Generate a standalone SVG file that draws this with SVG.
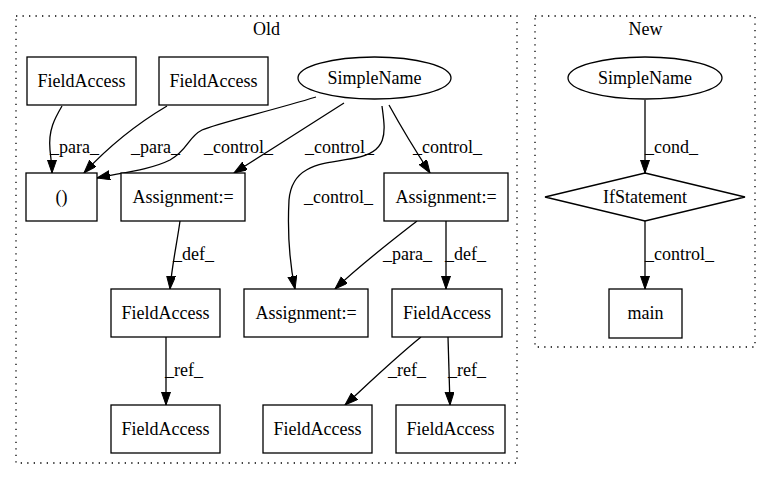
<svg xmlns="http://www.w3.org/2000/svg" width="771" height="480" viewBox="0 0 771 480" font-family="'Liberation Serif', 'Times New Roman', 'DejaVu Serif', serif" font-size="18">
<style>
text{font-family:'Liberation Serif','Times New Roman','DejaVu Serif',serif;font-size:18px;fill:#000}
.n text{text-anchor:middle}
.n rect,.n ellipse,.n polygon{fill:#fff;stroke:#000;stroke-width:1.3}
.c{fill:none;stroke:#000;stroke-width:1.3;stroke-dasharray:1.3 5.2}
.e path{fill:none;stroke:#000;stroke-width:1.3;marker-end:url(#ah)}
</style>
<defs>
<marker id="ah" markerUnits="userSpaceOnUse" markerWidth="15" markerHeight="12" refX="13" refY="4.5" orient="auto">
<path d="M0,0 L13,4.5 L0,9 Z" fill="#000" stroke="#000" stroke-width="1"/>
</marker>
</defs>
<rect width="771" height="480" fill="#fff"/>
<g id="cluster_old">
<rect class="c" x="16" y="16" width="501" height="447"/>
<text x="266.5" y="35" text-anchor="middle">Old</text>
</g>
<g id="cluster_new">
<rect class="c" x="535" y="16" width="220" height="331"/>
<text x="645.5" y="35" text-anchor="middle">New</text>
</g>
<g id="edges" class="e">
<path d="M62,106 C55,118 48,130 50,150 C51,160 52,166 52,173"/>
<text x="50" y="153">_para_</text>
<path d="M167,106 C140,122 110,145 84,173"/>
<text x="131" y="153">_para_</text>
<path d="M316,97 C270,111 215,124 202,130 C188,137 188,150 170,160 C150,170 120,173 97,178"/>
<text x="204" y="153">_control_</text>
<path d="M344,103 C310,125 270,150 234,173"/>
<text x="305" y="153">_control_</text>
<path d="M382,106 C385,130 390,152 355,158 C320,164 292,165 289,200 C287,240 290,265 295,289"/>
<text x="304" y="203">_control_</text>
<path d="M389,105 C400,125 415,150 430,173"/>
<text x="413" y="153">_control_</text>
<path d="M180,221 C177,243 172,265 170,289"/>
<text x="173" y="260">_def_</text>
<path d="M417,221 C390,242 360,265 335,289"/>
<text x="383" y="260">_para_</text>
<path d="M446,221 L446,289"/>
<text x="445" y="260">_def_</text>
<path d="M166,337 L166,405"/>
<text x="165" y="376">_ref_</text>
<path d="M421,337 C395,358 370,382 345,405"/>
<text x="388" y="376">_ref_</text>
<path d="M448,337 L450,405"/>
<text x="448" y="376">_ref_</text>
<path d="M645,100 L645,173"/>
<text x="645" y="153">_cond_</text>
<path d="M645,221 L645,289"/>
<text x="645" y="260">_control_</text>
</g>
<g id="fa1" class="n"><rect x="27" y="57" width="109" height="48"/><text x="81.5" y="87">FieldAccess</text></g>
<g id="fa2" class="n"><rect x="159" y="57" width="109" height="48"/><text x="213.5" y="87">FieldAccess</text></g>
<g id="sn_old" class="n"><ellipse cx="374.5" cy="78" rx="76.5" ry="21"/><text x="374.5" y="84">SimpleName</text></g>
<g id="paren" class="n"><rect x="26" y="173" width="71" height="48"/><text x="61.5" y="203">()</text></g>
<g id="asg1" class="n"><rect x="121" y="173" width="124" height="48"/><text x="183" y="203">Assignment:=</text></g>
<g id="asg2" class="n"><rect x="384" y="173" width="124" height="48"/><text x="446" y="203">Assignment:=</text></g>
<g id="fa3" class="n"><rect x="111" y="289" width="109" height="48"/><text x="165.5" y="319">FieldAccess</text></g>
<g id="asg3" class="n"><rect x="244" y="289" width="124" height="48"/><text x="306" y="319">Assignment:=</text></g>
<g id="fa4" class="n"><rect x="392" y="289" width="110" height="48"/><text x="447" y="319">FieldAccess</text></g>
<g id="fa5" class="n"><rect x="111" y="405" width="109" height="48"/><text x="165.5" y="435">FieldAccess</text></g>
<g id="fa6" class="n"><rect x="263" y="405" width="109" height="48"/><text x="317.5" y="435">FieldAccess</text></g>
<g id="fa7" class="n"><rect x="396" y="405" width="109" height="48"/><text x="450.5" y="435">FieldAccess</text></g>
<g id="sn_new" class="n"><ellipse cx="645" cy="78" rx="77" ry="21"/><text x="645" y="84">SimpleName</text></g>
<g id="ifst" class="n"><polygon points="645,173 745,197 645,221 545,197"/><text x="645" y="203">IfStatement</text></g>
<g id="main" class="n"><rect x="609" y="289" width="73" height="49"/><text x="645.5" y="319">main</text></g>
</svg>
